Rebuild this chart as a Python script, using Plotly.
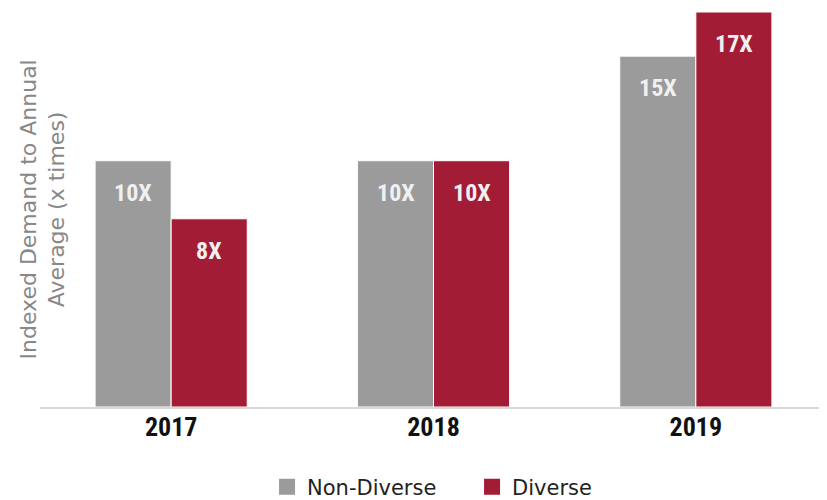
import plotly.graph_objects as go

years = ["2017", "2018", "2019"]
non_diverse = [10.6, 10.6, 15.1]
diverse = [8.1, 10.6, 17.0]
non_diverse_labels = ["10X", "10X", "15X"]
diverse_labels = ["8X", "10X", "17X"]

GRAY = "#9b9b9b"
RED = "#a31c36"
COND = "Roboto Condensed, Liberation Sans, sans-serif"
SANS = "DejaVu Sans, sans-serif"

fig = go.Figure()
fig.add_trace(go.Bar(x=years, y=non_diverse, name="Non-Diverse", marker=dict(color=GRAY, line=dict(color="white", width=1)), showlegend=False))
fig.add_trace(go.Bar(x=years, y=diverse, name="Diverse", marker=dict(color=RED, line=dict(color="white", width=1)), showlegend=False))

fig.add_trace(go.Scatter(x=[None], y=[None], mode="markers", name="Non-Diverse", xaxis="x2", yaxis="y2",
                         marker=dict(symbol="square", size=19, color=GRAY)))
fig.add_trace(go.Scatter(x=[None], y=[None], mode="markers", name="Diverse", xaxis="x2", yaxis="y2",
                         marker=dict(symbol="square", size=19, color=RED)))

for i, (v, lab) in enumerate(zip(non_diverse, non_diverse_labels)):
    fig.add_annotation(x=i, y=v, text=lab, showarrow=False, xshift=-38, yshift=-32,
                       yanchor="middle", font=dict(family=COND, size=24, color="#f0f0f0", weight="bold"))
for i, (v, lab) in enumerate(zip(diverse, diverse_labels)):
    fig.add_annotation(x=i, y=v, text=lab, showarrow=False, xshift=38, yshift=-32,
                       yanchor="middle", font=dict(family=COND, size=24, color="#f0f0f0", weight="bold"))

fig.add_annotation(xref="paper", yref="paper", x=0, y=0.5, xshift=2, textangle=-90,
                   text="Indexed Demand to Annual<br>Average (x times)", showarrow=False,
                   xanchor="center", yanchor="middle", align="center",
                   font=dict(family=SANS, size=22, color="#888888"))

fig.update_layout(
    width=819, height=492,
    margin=dict(l=32, r=0, t=4, b=93),
    paper_bgcolor="white", plot_bgcolor="white",
    barmode="group", bargap=0.42, bargroupgap=0,
    xaxis=dict(type="category", range=[-0.5, 2.5], showline=True, linecolor="#d9d9d9", linewidth=2,
               showgrid=False, ticks="",
               tickfont=dict(family=COND, size=26, color="#111111", weight="bold"),
               ticklabelstandoff=-4),
    yaxis=dict(range=[0, 17], showgrid=False, showticklabels=False, zeroline=False, showline=False),
    xaxis2=dict(overlaying="x", visible=False, range=[0, 1]),
    yaxis2=dict(overlaying="y", visible=False, range=[0, 1]),
    legend=dict(orientation="h", x=0.2885, xanchor="left", xref="paper",
                y=0.026, yanchor="middle", yref="container",
                font=dict(family=SANS, size=21, color="#222222"),
                entrywidth=160, entrywidthmode="pixels",
                itemsizing="trace", tracegroupgap=0),
)

fig.write_html("out.html")
